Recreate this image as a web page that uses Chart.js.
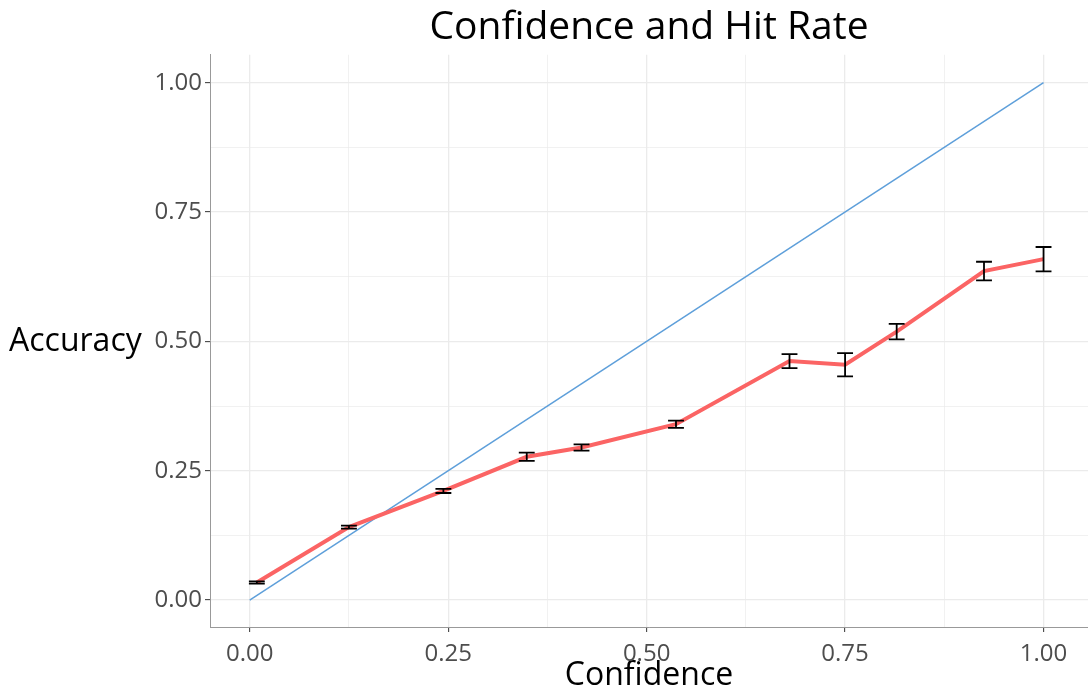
<!DOCTYPE html>
<html>
<head>
<meta charset="utf-8">
<script src="https://cdn.jsdelivr.net/npm/chart.js@4/dist/chart.umd.min.js"></script>
<style>
  html, body { margin: 0; padding: 0; background: #fff; }
  #wrap { width: 1088px; height: 695px; }
</style>
</head>
<body>
<div id="wrap"><canvas id="calChart" width="1088" height="695"></canvas></div>
<script>
// Dữ liệu
const confidence = [0.009, 0.125, 0.244, 0.349, 0.418, 0.537, 0.680, 0.750, 0.815, 0.925, 1.000];
const accuracy   = [0.034, 0.141, 0.211, 0.277, 0.295, 0.340, 0.462, 0.455, 0.519, 0.636, 0.659];
const errors     = [0.002, 0.003, 0.004, 0.008, 0.006, 0.007, 0.0135, 0.0225, 0.015, 0.018, 0.0235];
const diagX = [0, 1];
const diagY = [0, 1];
const tickValues = [0, 0.125, 0.25, 0.375, 0.5, 0.625, 0.75, 0.875, 1];

const FONT = "'Open Sans', 'DejaVu Sans', sans-serif";
const isMajor = v => Math.abs(v * 4 - Math.round(v * 4)) < 1e-6;

// Thanh sai số vẽ bằng các trục của Chart.js
const errorBars = {
    id: 'errorBars',
    afterDatasetsDraw(chart) {
        const ctx = chart.ctx;
        const xs = chart.scales.x, ys = chart.scales.y;
        ctx.save();
        ctx.strokeStyle = '#000';
        ctx.lineWidth = 1.8;
        confidence.forEach((c, i) => {
            const px = xs.getPixelForValue(c);
            const lo = ys.getPixelForValue(accuracy[i] - errors[i]);
            const hi = ys.getPixelForValue(accuracy[i] + errors[i]);
            const l = xs.getPixelForValue(c - 0.01), r = xs.getPixelForValue(c + 0.01);
            ctx.beginPath();
            ctx.moveTo(px, lo); ctx.lineTo(px, hi);
            ctx.moveTo(l, lo); ctx.lineTo(r, lo);
            ctx.moveTo(l, hi); ctx.lineTo(r, hi);
            ctx.stroke();
        });
        ctx.restore();
    },
    afterDraw(chart) {
        // Nhãn trục Y nằm ngang như ggplot
        const ctx = chart.ctx;
        ctx.save();
        ctx.font = '32px ' + FONT;
        ctx.fillStyle = '#000';
        ctx.textBaseline = 'middle';
        ctx.textAlign = 'left';
        ctx.fillText('Accuracy', 9, chart.scales.y.getPixelForValue(0.5));
        ctx.restore();
    }
};

const ctx = document.getElementById('calChart').getContext('2d');
const chart = new Chart(ctx, {
    type: 'line',
    data: {
        datasets: [
            {
                label: 'Hit rate',
                data: confidence.map((c, i) => ({ x: c, y: accuracy[i] })),
                borderColor: '#FB6464',
                borderWidth: 4,
                pointRadius: 0,
                order: 1
            },
            {
                label: 'Ideal',
                data: diagX.map((x, i) => ({ x: x, y: diagY[i] })),
                borderColor: '#5E9FDA',
                borderWidth: 1.5,
                pointRadius: 0,
                order: 2
            }
        ]
    },
    options: {
        responsive: false,
        animation: false,
        layout: { padding: { left: 0, right: 0, top: 0, bottom: 0 } },
        plugins: {
            legend: { display: false },
            tooltip: { enabled: false },
            title: {
                display: true,
                text: 'Confidence and Hit Rate',
                fullSize: false,
                color: '#000',
                font: { family: FONT, size: 39, weight: 'normal' },
                padding: { top: 4, bottom: 4 }
            }
        },
        scales: {
            x: {
                type: 'linear',
                min: -0.05,
                max: 1.056,
                afterBuildTicks: axis => { axis.ticks = tickValues.map(v => ({ value: v })); },
                afterFit: axis => { axis.height = 68; },
                border: { display: true, color: '#999', width: 1 },
                grid: {
                    color: '#EBEBEB',
                    lineWidth: c => isMajor(c.tick.value) ? 1.3 : 0.7,
                    tickColor: c => isMajor(c.tick.value) ? '#333' : 'rgba(0,0,0,0)',
                    tickLength: 5,
                    tickWidth: 1
                },
                ticks: {
                    color: '#4D4D4D',
                    font: { family: FONT, size: 24 },
                    padding: 8,
                    maxRotation: 0,
                    autoSkip: false,
                    callback: v => isMajor(v) ? v.toFixed(2) : ''
                },
                title: {
                    display: true,
                    text: 'Confidence',
                    color: '#000',
                    font: { family: FONT, size: 32 },
                    padding: { top: 0, bottom: 0 }
                }
            },
            y: {
                type: 'linear',
                min: -0.052,
                max: 1.054,
                afterBuildTicks: axis => { axis.ticks = tickValues.map(v => ({ value: v })); },
                afterFit: axis => { axis.width = 210; },
                border: { display: true, color: '#999', width: 1 },
                grid: {
                    color: '#EBEBEB',
                    lineWidth: c => isMajor(c.tick.value) ? 1.3 : 0.7,
                    tickColor: c => isMajor(c.tick.value) ? '#333' : 'rgba(0,0,0,0)',
                    tickLength: 5,
                    tickWidth: 1
                },
                ticks: {
                    color: '#4D4D4D',
                    font: { family: FONT, size: 24 },
                    padding: 3,
                    autoSkip: false,
                    callback: v => isMajor(v) ? v.toFixed(2) : ''
                }
            }
        }
    },
    plugins: [errorBars]
});
</script>
</body>
</html>
